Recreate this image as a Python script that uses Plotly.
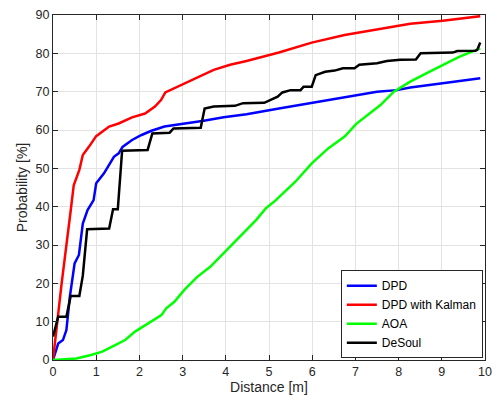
import plotly.graph_objects as go

# DPD
dpd_x = [0, 0.12, 0.23, 0.31, 0.39, 0.5, 0.6, 0.69, 0.8, 0.94, 1.0, 1.18, 1.41, 1.52, 1.61, 1.83, 2.05, 2.28, 2.58, 3.04, 3.49, 3.95, 4.48, 5.23, 5.99, 6.75, 7.5, 7.96, 8.27, 9.02, 9.89]
dpd_y = [0, 4.3, 5.2, 7.8, 16.5, 25.2, 27.4, 35.6, 39.1, 41.7, 46.1, 48.7, 53.0, 53.9, 55.6, 57.4, 58.7, 59.8, 60.9, 61.6, 62.4, 63.3, 64.1, 65.6, 67.1, 68.7, 70.0, 70.4, 71.1, 72.2, 73.5]

# DPD with Kalman
kal_x = [0, 0.2, 0.41, 0.48, 0.61, 0.69, 0.83, 1.0, 1.3, 1.52, 1.83, 2.13, 2.36, 2.5, 2.6, 2.96, 3.34, 3.72, 4.1, 4.48, 5.23, 5.99, 6.75, 7.5, 8.27, 9.02, 9.89]
kal_y = [0, 20, 39, 45.6, 49.6, 53.5, 55.6, 58.4, 60.9, 61.7, 63.3, 64.3, 66.1, 67.8, 69.8, 71.7, 73.9, 75.7, 77.0, 78.0, 80.2, 82.8, 84.8, 86.3, 87.7, 88.5, 89.7]

# AOA
aoa_x = [0, 0.54, 0.88, 1.14, 1.37, 1.67, 1.9, 2.2, 2.51, 2.62, 2.81, 3.04, 3.34, 3.64, 4.1, 4.48, 4.7, 4.93, 5.16, 5.61, 5.99, 6.37, 6.75, 7.02, 7.28, 7.58, 7.89, 8.27, 8.64, 9.02, 9.4, 9.89]
aoa_y = [0, 0.4, 1.3, 2.2, 3.5, 5.2, 7.4, 9.6, 11.7, 13.5, 15.2, 18.3, 21.7, 24.3, 29.6, 34.1, 36.5, 39.6, 41.7, 46.5, 51.3, 55.2, 58.3, 61.6, 63.9, 66.5, 70.0, 72.6, 74.8, 77.0, 79.1, 81.3]

# DeSoul
ds_x = [0, 0.12, 0.31, 0.41, 0.61, 0.69, 0.79, 1.3, 1.39, 1.5, 1.6, 2.19, 2.3, 2.7, 2.79, 3.42, 3.51, 3.72, 4.21, 4.4, 4.89, 5.08, 5.2, 5.31, 5.5, 5.73, 5.8, 5.99, 6.08, 6.3, 6.52, 6.71, 6.98, 7.09, 7.5, 7.73, 8.04, 8.4, 8.51, 9.25, 9.36, 9.78, 9.82, 9.89]
ds_y = [6.1, 11.3, 11.3, 16.7, 16.7, 22.0, 34.1, 34.3, 39.3, 39.3, 54.6, 54.8, 59.1, 59.3, 60.4, 60.6, 65.6, 66.1, 66.3, 67.0, 67.1, 68.2, 68.7, 69.8, 70.4, 70.4, 71.3, 71.3, 74.3, 75.2, 75.5, 76.1, 76.1, 77.0, 77.4, 78.0, 78.3, 78.4, 80.0, 80.2, 80.6, 80.7, 80.9, 82.8]

x_ticks = list(range(0, 11))
y_ticks = list(range(0, 100, 10))

font = "Liberation Sans, Arial, Helvetica, sans-serif"
fig = go.Figure()
for name, xs, ys, col in [
    ("DPD", dpd_x, dpd_y, "#0000ff"),
    ("DPD with Kalman", kal_x, kal_y, "#ff0000"),
    ("AOA", aoa_x, aoa_y, "#00ff00"),
    ("DeSoul", ds_x, ds_y, "#000000"),
]:
    fig.add_trace(go.Scatter(x=xs, y=ys, mode="lines", name=name,
                             line=dict(color=col, width=2.5)))

axis_common = dict(
    showline=True, linecolor="#262626", linewidth=1, mirror="ticks",
    ticks="inside", ticklen=5, tickcolor="#262626",
    showgrid=True, gridcolor="#e3e3e3", gridwidth=1,
    zeroline=False, automargin=False,
    tickfont=dict(size=12.5, color="#262626", family=font),
)
fig.update_xaxes(range=[0, 10], tickvals=x_ticks, ticktext=[str(v) for v in x_ticks],
                 title=dict(text="Distance [m]", font=dict(size=14, color="#262626", family=font), standoff=3),
                 **axis_common)
fig.update_yaxes(range=[0, 90], tickvals=y_ticks, ticktext=[str(v) for v in y_ticks],
                 title=dict(text="Probability [%]", font=dict(size=14, color="#262626", family=font), standoff=4),
                 **axis_common)

# the visible page area ends near x=493, so the plot box stops a little short of it
fig.update_layout(
    width=485, height=388,
    margin=dict(l=45, r=8, t=7, b=36),
    plot_bgcolor="white", paper_bgcolor="white",
    font=dict(family=font, size=12, color="#000000"),
    legend=dict(x=0.995, y=0.005, xanchor="right", yanchor="bottom",
                bordercolor="#262626", borderwidth=1, bgcolor="white",
                font=dict(size=12, family=font, color="#000000"),
                tracegroupgap=0, itemwidth=30),
    showlegend=True,
)

fig.write_html("out.html")
